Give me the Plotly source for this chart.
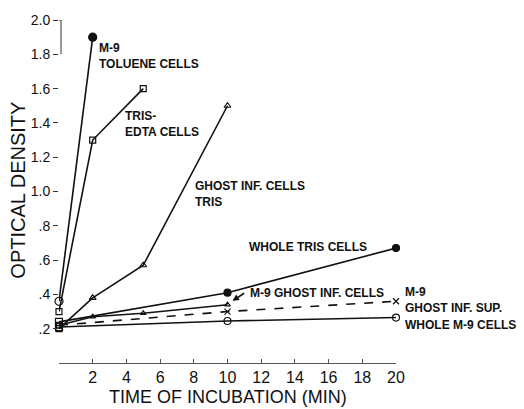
import plotly.graph_objects as go

# ---- data (time in min, optical density) ----
toluene_t = [0, 2]
toluene_od = [0.36, 1.90]

tris_edta_t = [0, 2, 5]
tris_edta_od = [0.30, 1.30, 1.60]

ghost_tris_t = [0, 2, 5, 10]
ghost_tris_od = [0.20, 0.38, 0.57, 1.50]

whole_tris_t = [0, 10, 20]
whole_tris_od = [0.24, 0.41, 0.67]

m9_ghost_t = [0, 2, 5, 10]
m9_ghost_od = [0.22, 0.27, 0.29, 0.34]

m9_sup_t = [0, 10, 20]
m9_sup_od = [0.22, 0.30, 0.36]

whole_m9_t = [0, 10, 20]
whole_m9_od = [0.21, 0.245, 0.265]

x_ticks = [2, 4, 6, 8, 10, 12, 14, 16, 18, 20]
y_ticks = [0.2, 0.4, 0.6, 0.8, 1.0, 1.2, 1.4, 1.6, 1.8, 2.0]
y_ticklabels = [".2", ".4", ".6", ".8", "1.0", "1.2", "1.4", "1.6", "1.8", "2.0"]

FONT = "Liberation Sans, Arial, sans-serif"
BLACK = "#111111"

fig = go.Figure()

def add(t, od, symbols, dash="solid", size=7):
    fig.add_trace(go.Scatter(
        x=t, y=od, mode="lines+markers",
        line=dict(color=BLACK, width=1.6, dash=dash),
        marker=dict(symbol=symbols, size=size, color=BLACK,
                    line=dict(color=BLACK, width=1.2)),
        cliponaxis=False, showlegend=False, hoverinfo="skip"))

add(toluene_t, toluene_od, ["circle-open", "circle"], size=8)
add(tris_edta_t, tris_edta_od, ["square-open"] * 3, size=6)
add(ghost_tris_t, ghost_tris_od, ["square-open"] + ["triangle-up-open"] * 3, size=6)
add(whole_tris_t, whole_tris_od, ["square-open", "circle", "circle"], size=7)
add(m9_ghost_t, m9_ghost_od, ["square-open"] + ["triangle-up-open"] * 3, size=5)
add(m9_sup_t, m9_sup_od, ["square-open", "x-thin-open", "x-thin-open"], dash="dash", size=6)
add(whole_m9_t, whole_m9_od, ["square-open", "circle-open", "circle-open"], size=7)

# labels inside the plot (data coordinates)
labels_in = [
    ("M-9<br>TOLUENE CELLS", 2.26, 1.790),
    ("TRIS-<br>EDTA CELLS", 3.80, 1.391),
    ("GHOST INF. CELLS<br>TRIS", 7.95, 0.988),
    ("WHOLE TRIS CELLS", 11.16, 0.676),
    ("M-9 GHOST INF. CELLS", 11.22, 0.408),
]
for txt, x, y in labels_in:
    fig.add_annotation(x=x, y=y, xref="x", yref="y", text="<b>" + txt + "</b>",
                       showarrow=False, xanchor="left", yanchor="middle", align="left",
                       font=dict(family=FONT, size=12, color=BLACK))

# labels right of the plot (paper coordinates)
labels_out = [
    ("M-9<br>GHOST INF. SUP.", 1.021, 0.184),
    ("WHOLE M-9 CELLS", 1.021, 0.111),
]
for txt, x, y in labels_out:
    fig.add_annotation(x=x, y=y, xref="paper", yref="paper", text="<b>" + txt + "</b>",
                       showarrow=False, xanchor="left", yanchor="middle", align="left",
                       font=dict(family=FONT, size=12, color=BLACK))

# arrow to the M-9 ghost infected cells point
fig.add_annotation(x=10.25, y=0.36, xref="x", yref="y", text="",
                   showarrow=True, arrowhead=2, arrowsize=0.8, arrowwidth=1.6,
                   arrowcolor=BLACK, ax=14, ay=-9, standoff=1)

# axis titles
fig.add_annotation(x=0.5, y=-0.134, xref="paper", yref="paper",
                   text="TIME OF INCUBATION (MIN)", showarrow=False,
                   xanchor="center", yanchor="bottom",
                   font=dict(family=FONT, size=18, color=BLACK))
fig.add_annotation(x=-0.122, y=0.505, xref="paper", yref="paper",
                   text="OPTICAL DENSITY", showarrow=False, textangle=-90,
                   xanchor="center", yanchor="middle",
                   font=dict(family=FONT, size=20, color=BLACK))

# y-axis bracket at top and faint axis
fig.add_shape(type="line", xref="x", yref="y", x0=0.12, x1=0.12, y0=1.8, y1=2.0,
              line=dict(color="#333", width=1))
fig.add_shape(type="line", xref="x", yref="y", x0=-0.2, x1=0.12, y0=2.0, y1=2.0,
              line=dict(color="#333", width=1))
fig.add_shape(type="line", xref="x", yref="y", x0=-0.05, x1=-0.05, y0=0.0, y1=1.8,
              line=dict(color="#bbbbbb", width=1, dash="dot"))

fig.update_xaxes(range=[0, 20], tickvals=x_ticks, ticktext=[str(v) for v in x_ticks],
                 showgrid=False, zeroline=False, showline=True, linecolor="#555",
                 linewidth=1, ticks="inside", ticklen=4, tickcolor="#555",
                 tickfont=dict(family=FONT, size=16, color=BLACK))
fig.update_yaxes(range=[0, 2.0], tickvals=y_ticks, ticktext=y_ticklabels,
                 showgrid=False, zeroline=False, showline=False,
                 ticks="outside", ticklen=5, tickcolor="#333",
                 tickfont=dict(family=FONT, size=14, color=BLACK))

fig.update_layout(width=524, height=409, margin=dict(l=59, r=128, t=20, b=46),
                  plot_bgcolor="white", paper_bgcolor="white")

fig.write_html("out.html", config={"displayModeBar": False},
               post_script="document.body.style.margin='0px';")
